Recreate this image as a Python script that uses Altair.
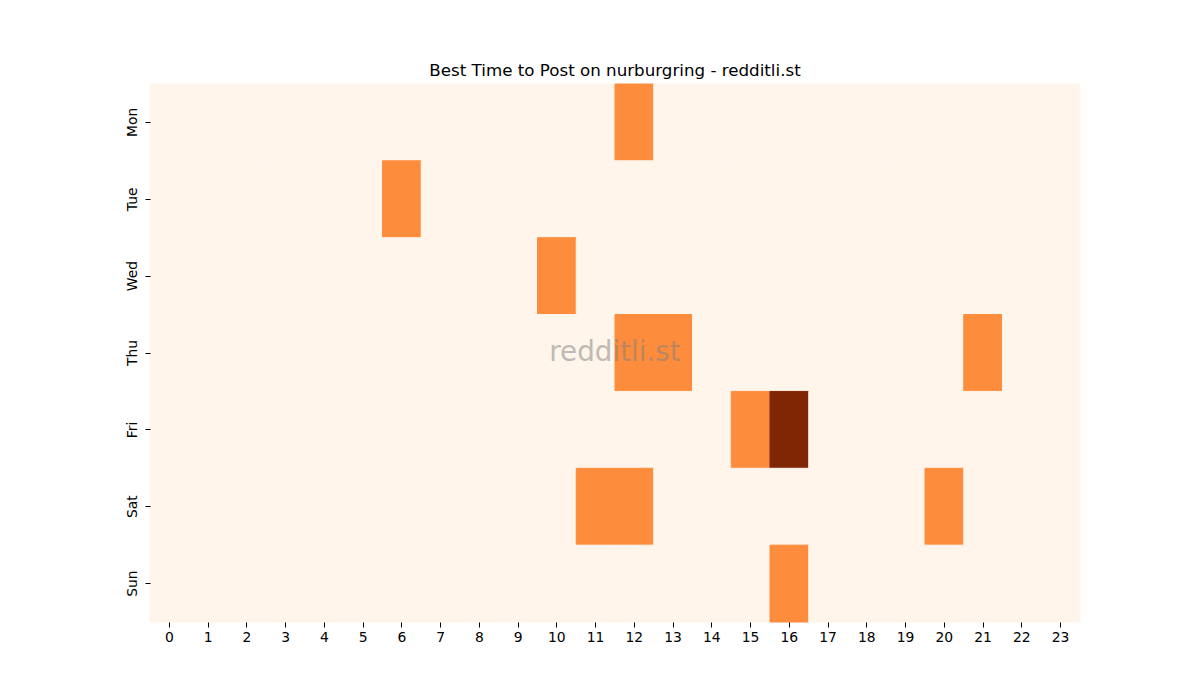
import altair as alt
import pandas as pd

days = ["Mon", "Tue", "Wed", "Thu", "Fri", "Sat", "Sun"]
hours = list(range(24))

mon = [0, 0, 0, 0, 0, 0, 0, 0, 0, 0, 0, 0, 1, 0, 0, 0, 0, 0, 0, 0, 0, 0, 0, 0]
tue = [0, 0, 0, 0, 0, 0, 1, 0, 0, 0, 0, 0, 0, 0, 0, 0, 0, 0, 0, 0, 0, 0, 0, 0]
wed = [0, 0, 0, 0, 0, 0, 0, 0, 0, 0, 1, 0, 0, 0, 0, 0, 0, 0, 0, 0, 0, 0, 0, 0]
thu = [0, 0, 0, 0, 0, 0, 0, 0, 0, 0, 0, 0, 1, 1, 0, 0, 0, 0, 0, 0, 0, 1, 0, 0]
fri = [0, 0, 0, 0, 0, 0, 0, 0, 0, 0, 0, 0, 0, 0, 0, 1, 2, 0, 0, 0, 0, 0, 0, 0]
sat = [0, 0, 0, 0, 0, 0, 0, 0, 0, 0, 0, 1, 1, 0, 0, 0, 0, 0, 0, 0, 1, 0, 0, 0]
sun = [0, 0, 0, 0, 0, 0, 0, 0, 0, 0, 0, 0, 0, 0, 0, 0, 1, 0, 0, 0, 0, 0, 0, 0]

title = "Best Time to Post on nurburgring - redditli.st"
watermark = "redditli.st"

rows = []
for day, vals in zip(days, [mon, tue, wed, thu, fri, sat, sun]):
    for h, v in zip(hours, vals):
        rows.append({"day": day, "hour": h, "count": v})
df = pd.DataFrame(rows)

W, H = 930, 538
cmap = alt.Scale(domain=[0, 1, 2], range=["#fff5eb", "#fd8d3c", "#7f2704"])

heat = alt.Chart(df).mark_rect(strokeWidth=1).encode(
    x=alt.X("hour:O", title=None, sort=hours,
            scale=alt.Scale(paddingInner=0, paddingOuter=0),
            axis=alt.Axis(labelAngle=0)),
    y=alt.Y("day:O", title=None, sort=days,
            scale=alt.Scale(paddingInner=0, paddingOuter=0),
            axis=alt.Axis(labelAngle=270, labelAlign="center", labelBaseline="bottom",
                          labelPadding=6)),
    color=alt.Color("count:O", legend=None, scale=cmap),
    stroke=alt.Stroke("count:O", legend=None, scale=cmap),
)

mark = alt.Chart(pd.DataFrame({"t": [watermark]})).mark_text(
    font="DejaVu Sans", fontSize=27.8, color="#808080", opacity=0.5,
    align="center", baseline="middle"
).encode(text="t:N", x=alt.value(W / 2), y=alt.value(H / 2))

chart = alt.layer(heat, mark).properties(
    width=W, height=H,
    autosize=alt.AutoSizeParams(type="none"),
    padding={"left": 142, "top": 76, "right": 100, "bottom": 60},
    title=alt.Title(title, fontSize=16.7, font="DejaVu Sans", fontWeight="normal",
                    color="black", anchor="middle", offset=4),
).configure_view(stroke=None).configure_axis(
    domain=False, grid=False,
    labelFont="DejaVu Sans", labelFontSize=13.9, labelColor="black",
    tickColor="black", tickWidth=1, tickSize=5, labelPadding=3,
)

chart.save("out.html", embed_options={"renderer": "svg", "actions": False})
